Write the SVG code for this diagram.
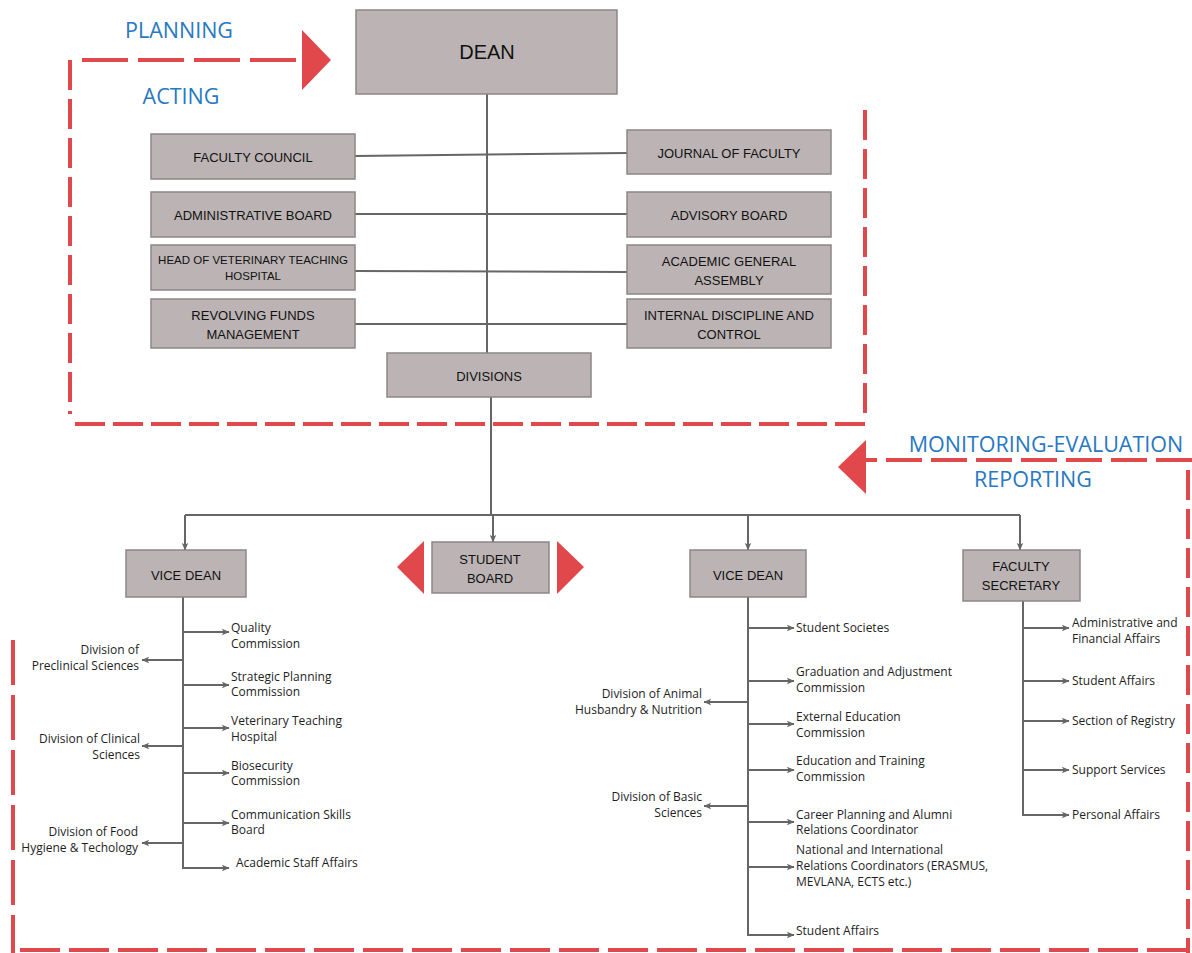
<svg xmlns="http://www.w3.org/2000/svg" width="1192" height="953" viewBox="0 0 1192 953">
<defs>
<marker id="ah" markerUnits="userSpaceOnUse" markerWidth="8" markerHeight="8" viewBox="0 0 8 8" refX="7" refY="4" orient="auto">
<path d="M0,0.8 L7.5,4 L0,7.2 L1.5,4 Z" fill="#666"/>
</marker>
<style>
.box{fill:#bcb4b4;stroke:#8c8787;stroke-width:1.5}
.bt{font-family:"Liberation Sans",Arial,sans-serif;font-size:13px;fill:#111;text-anchor:middle}
.lbl{font-family:"Open Sans","Liberation Sans",sans-serif;font-size:12px;fill:#1e1e1e}
.lr{text-anchor:end}
.ln{stroke:#666;stroke-width:2;fill:none}
.ar{stroke:#666;stroke-width:2;fill:none;marker-end:url(#ah)}
.red{stroke:#e0484b;stroke-width:4;fill:none;stroke-dasharray:30 9}
.redf{fill:#e0484b}
.blue{font-family:"Open Sans","Liberation Sans",sans-serif;font-size:21.5px;fill:#2878c2;text-anchor:middle}
</style>
</defs>
<rect width="1192" height="953" fill="#fff"/>

<g id="cycle">
<path class="red" d="M82,60 L302,60" style="stroke-dasharray:46 10"/>
<polygon class="redf" points="302,30 331,60 302,90"/>
<path class="red" d="M70,60 L70,414"/>
<path class="red" d="M75,424 L865,424" style="stroke-dasharray:30 8"/>
<path class="red" d="M865,110 L865,414"/>
<path class="red" d="M1192,460 L866,460" style="stroke-dasharray:36 9"/>
<polygon class="redf" points="866,440 838,467 866,494"/>
<path class="red" d="M1188,470 L1188,953"/>
<path class="red" d="M20,950 L1192,950" style="stroke-dasharray:40 9"/>
<path class="red" d="M13,640 L13,953" style="stroke-dasharray:45 10"/>
<polygon class="redf" points="424,541 397,567 424,594"/>
<polygon class="redf" points="557,541 584,567 557,594"/>
<text class="blue" x="179" y="38">PLANNING</text>
<text class="blue" x="181" y="104">ACTING</text>
<text class="blue" x="1046" y="452">MONITORING-EVALUATION</text>
<text class="blue" x="1033" y="487">REPORTING</text>
</g>

<g id="connectors">
<path class="ln" d="M487,94 L487,353"/>
<path class="ln" d="M355,156 L627,153"/>
<path class="ln" d="M355,214 L627,214"/>
<path class="ln" d="M355,271 L627,272"/>
<path class="ln" d="M355,324 L627,324"/>
<path class="ln" d="M491,397 L491,515"/>
<path class="ln" d="M185,515 L1020,515"/>
<path class="ar" d="M185,515 L185,550"/>
<path class="ar" d="M493,515 L493,542"/>
<path class="ar" d="M748,515 L748,550"/>
<path class="ar" d="M1020,515 L1020,550"/>
<path class="ln" d="M183,597 L183,868"/>
<path class="ar" d="M183,632 L229,632"/>
<path class="ar" d="M183,685 L229,685"/>
<path class="ar" d="M183,728 L229,728"/>
<path class="ar" d="M183,773 L229,773"/>
<path class="ar" d="M183,823 L229,823"/>
<path class="ar" d="M182,868 L229,868"/>
<path class="ar" d="M183,660 L142,660"/>
<path class="ar" d="M183,746 L142,746"/>
<path class="ar" d="M183,843 L142,843"/>
<path class="ln" d="M748,597 L748,935"/>
<path class="ar" d="M748,628 L794,628"/>
<path class="ar" d="M748,681 L794,681"/>
<path class="ar" d="M748,724 L794,724"/>
<path class="ar" d="M748,770 L794,770"/>
<path class="ar" d="M748,822 L794,822"/>
<path class="ar" d="M748,867 L794,867"/>
<path class="ar" d="M747,935 L794,935"/>
<path class="ar" d="M748,702 L704,702"/>
<path class="ar" d="M748,806 L704,806"/>
<path class="ln" d="M1023,601 L1023,815"/>
<path class="ar" d="M1023,628 L1069,628"/>
<path class="ar" d="M1023,681 L1069,681"/>
<path class="ar" d="M1023,721 L1069,721"/>
<path class="ar" d="M1023,770 L1069,770"/>
<path class="ar" d="M1022,815 L1069,815"/>
</g>

<g id="dean"><rect class="box" x="356" y="10" width="261" height="84"/><text class="bt" x="487" y="59" style="font-size:20px">DEAN</text></g>
<g id="faculty-council"><rect class="box" x="151" y="134" width="204" height="45"/><text class="bt" x="253" y="162">FACULTY COUNCIL</text></g>
<g id="administrative-board"><rect class="box" x="151" y="192" width="204" height="45"/><text class="bt" x="253" y="220">ADMINISTRATIVE BOARD</text></g>
<g id="head-vet"><rect class="box" x="151" y="245" width="204" height="45"/><text class="bt" x="253" y="264" style="font-size:11.5px">HEAD OF VETERINARY TEACHING</text><text class="bt" x="253" y="280" style="font-size:11.5px">HOSPITAL</text></g>
<g id="revolving"><rect class="box" x="151" y="299" width="204" height="49"/><text class="bt" x="253" y="320">REVOLVING FUNDS</text><text class="bt" x="253" y="339">MANAGEMENT</text></g>
<g id="journal"><rect class="box" x="627" y="130" width="204" height="44"/><text class="bt" x="729" y="158">JOURNAL OF FACULTY</text></g>
<g id="advisory"><rect class="box" x="627" y="192" width="204" height="45"/><text class="bt" x="729" y="220">ADVISORY BOARD</text></g>
<g id="academic-general"><rect class="box" x="627" y="245" width="204" height="49"/><text class="bt" x="729" y="266">ACADEMIC GENERAL</text><text class="bt" x="729" y="285">ASSEMBLY</text></g>
<g id="internal-discipline"><rect class="box" x="627" y="299" width="204" height="49"/><text class="bt" x="729" y="320">INTERNAL DISCIPLINE AND</text><text class="bt" x="729" y="339">CONTROL</text></g>
<g id="divisions"><rect class="box" x="387" y="353" width="204" height="44"/><text class="bt" x="489" y="381">DIVISIONS</text></g>
<g id="vice-dean-1"><rect class="box" x="126" y="550" width="120" height="47"/><text class="bt" x="186" y="580">VICE DEAN</text></g>
<g id="student-board"><rect class="box" x="432" y="542" width="117" height="51"/><text class="bt" x="490" y="564">STUDENT</text><text class="bt" x="490" y="583">BOARD</text></g>
<g id="vice-dean-2"><rect class="box" x="690" y="550" width="116" height="47"/><text class="bt" x="748" y="580">VICE DEAN</text></g>
<g id="faculty-secretary"><rect class="box" x="963" y="550" width="117" height="51"/><text class="bt" x="1021" y="571">FACULTY</text><text class="bt" x="1021" y="590">SECRETARY</text></g>

<g id="vd1-items">
<text class="lbl" x="231" y="632">Quality</text><text class="lbl" x="231" y="648">Commission</text>
<text class="lbl" x="231" y="681">Strategic Planning</text><text class="lbl" x="231" y="696">Commission</text>
<text class="lbl" x="231" y="725">Veterinary Teaching</text><text class="lbl" x="231" y="741">Hospital</text>
<text class="lbl" x="231" y="770">Biosecurity</text><text class="lbl" x="231" y="785">Commission</text>
<text class="lbl" x="231" y="819">Communication Skills</text><text class="lbl" x="231" y="834">Board</text>
<text class="lbl" x="236" y="867">Academic Staff Affairs</text>
<text class="lbl lr" x="139" y="654">Division of</text><text class="lbl lr" x="139" y="670">Preclinical Sciences</text>
<text class="lbl lr" x="140" y="743">Division of Clinical</text><text class="lbl lr" x="140" y="759">Sciences</text>
<text class="lbl lr" x="138" y="836">Division of Food</text><text class="lbl lr" x="138" y="852">Hygiene &amp; Techology</text>
</g>
<g id="vd2-items">
<text class="lbl" x="796" y="632">Student Societes</text>
<text class="lbl" x="796" y="676">Graduation and Adjustment</text><text class="lbl" x="796" y="692">Commission</text>
<text class="lbl" x="796" y="721">External Education</text><text class="lbl" x="796" y="737">Commission</text>
<text class="lbl" x="796" y="765">Education and Training</text><text class="lbl" x="796" y="781">Commission</text>
<text class="lbl" x="796" y="819">Career Planning and Alumni</text><text class="lbl" x="796" y="834">Relations Coordinator</text>
<text class="lbl" x="796" y="854">National and International</text><text class="lbl" x="796" y="870">Relations Coordinators (ERASMUS,</text><text class="lbl" x="796" y="886">MEVLANA, ECTS etc.)</text>
<text class="lbl" x="796" y="935">Student Affairs</text>
<text class="lbl lr" x="702" y="698">Division of Animal</text><text class="lbl lr" x="702" y="714">Husbandry &amp; Nutrition</text>
<text class="lbl lr" x="702" y="801">Division of Basic</text><text class="lbl lr" x="702" y="817">Sciences</text>
</g>
<g id="fs-items">
<text class="lbl" x="1072" y="627">Administrative and</text><text class="lbl" x="1072" y="643">Financial Affairs</text>
<text class="lbl" x="1072" y="685">Student Affairs</text>
<text class="lbl" x="1072" y="725">Section of Registry</text>
<text class="lbl" x="1072" y="774">Support Services</text>
<text class="lbl" x="1072" y="819">Personal Affairs</text>
</g>
</svg>
